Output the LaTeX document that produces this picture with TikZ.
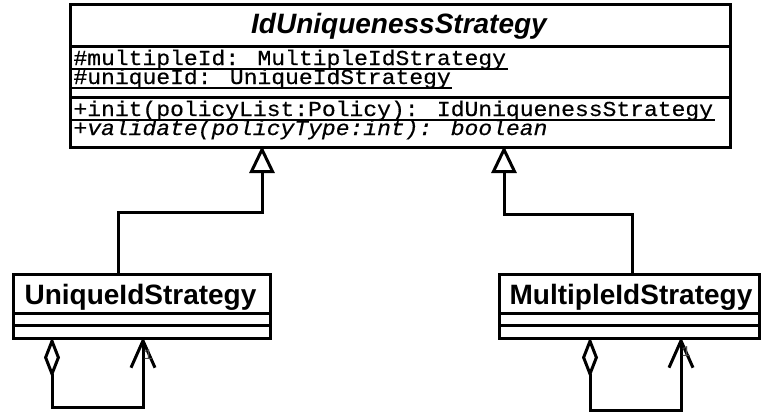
\documentclass[tikz,border=0pt]{standalone}
\usepackage{fontspec}
\setmainfont{Liberation Sans}
\newfontfamily\monof{Liberation Mono}[FakeBold=0.5,FakeStretch=1.08]
\newfontfamily\lblf{Liberation Mono}
\usetikzlibrary{arrows.meta}
\begin{document}
\begin{tikzpicture}[x=1pt,y=-1pt, line width=3pt,
  box/.style={draw, rectangle, inner sep=0pt, anchor=north west},
  nm/.style={font=\fontsize{28}{30}\selectfont\bfseries, inner sep=0pt, anchor=base},
  mono/.style={font=\fontsize{21.3}{19}\selectfont\monof, inner sep=0pt, anchor=base west},
  ul/.style={line width=1.8pt},
  gen/.style={-{Triangle[open, length=27pt, width=25pt]}},
  assoc/.style={{Diamond[open, length=41pt, width=16pt]}-{Straight Barb[length=27pt, width=24pt]}},
  lbl/.style={font=\fontsize{15}{15}\selectfont\lblf, text=black!70, inner sep=0pt}]
\useasboundingbox (0,0) rectangle (761,415);
% top class
\node[box, minimum width=660pt, minimum height=143pt] (top) at (69,3) {};
\draw (top.north west) ++(0,43) -- ++(660,0);
\draw (top.north west) ++(0,94) -- ++(660,0);
\node[nm, font=\fontsize{28}{30}\selectfont\bfseries\itshape] (topname) at (399,33) {IdUniquenessStrategy};
\node[mono] (a1) at (72,65) {\#multipleId: MultipleIdStrategy\ };
\draw[ul] ([yshift=-4pt]a1.base west) -- ([yshift=-4pt]a1.base east);
\node[mono] (a2) at (72,84) {\#uniqueId: UniqueIdStrategy\ };
\draw[ul] ([yshift=-4pt]a2.base west) -- ([yshift=-4pt]a2.base east);
\node[mono] (o1) at (72,116) {+init(policyList:Policy): IdUniquenessStrategy\ };
\draw[ul] ([yshift=-4pt]o1.base west) -- ([yshift=-4pt]o1.base east);
\node[mono, font=\fontsize{21.3}{19}\selectfont\monof\itshape] (o2) at (72,135) {+validate(policyType:int): boolean};
% UniqueIdStrategy
\node[box, minimum width=257pt, minimum height=64pt] (uni) at (12,273) {};
\draw (uni.north west) ++(0,40) -- ++(257,0);
\draw (uni.north west) ++(0,52) -- ++(257,0);
\node[nm] (uniname) at (140.5,304) {UniqueIdStrategy};
% MultipleIdStrategy
\node[box, minimum width=260pt, minimum height=64pt] (mul) at (498,273) {};
\draw (mul.north west) ++(0,40) -- ++(260,0);
\draw (mul.north west) ++(0,52) -- ++(260,0);
\node[nm] (mulname) at (631,304) {MultipleIdStrategy};
% generalizations
\coordinate (g1) at (262,146);
\coordinate (u1) at (118,273);
\coordinate (g2) at (504,146);
\coordinate (m1) at (632,273);
\draw[gen] (u1) -- ++(0,-61) -| (g1);
\draw[gen] (m1) -- ++(0,-59) -| (g2);
% self associations
\coordinate (ud) at (52,337);
\coordinate (ua) at (143,337);
\coordinate (md) at (590,337);
\coordinate (ma) at (681,337);
\draw[assoc] (ud) -- ++(0,70) -| (ua);
\draw[assoc] (md) -- ++(0,73) -| (ma);
\node[lbl] (l1) at (148,355) {1};
\node[lbl] (l2) at (686,352) {1};
\end{tikzpicture}
\end{document}
